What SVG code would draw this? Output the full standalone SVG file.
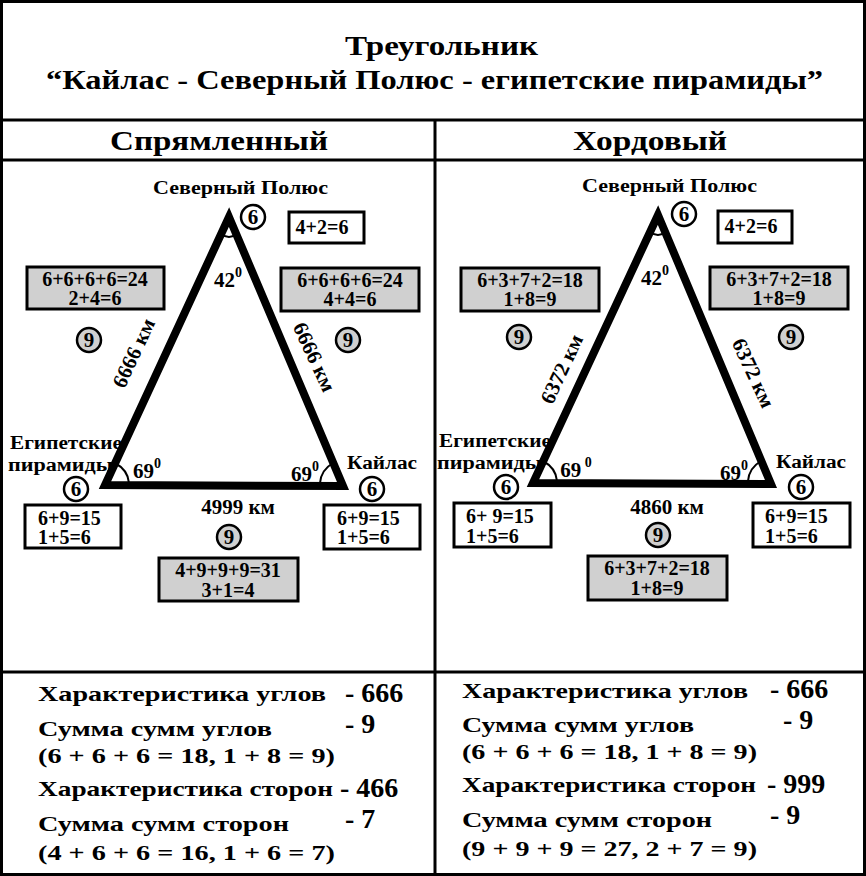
<svg xmlns="http://www.w3.org/2000/svg" width="866" height="876" viewBox="0 0 866 876">
<style>
text{font-family:"Liberation Serif","Times New Roman",serif;font-weight:bold;fill:#000}
.t{font-size:28px}
.l{font-size:18px}
.b{font-size:20px;text-anchor:middle}
.bs{font-size:20px;text-anchor:start}
.c{font-size:21px;text-anchor:middle}
.s{font-size:21px}
.n{font-size:28px}
.w{fill:#fff;stroke:#000;stroke-width:3}
.g{fill:#d0d0d0;stroke:#000;stroke-width:3}
.cw{fill:#fff;stroke:#000;stroke-width:2.5}
.cg{fill:#d0d0d0;stroke:#000;stroke-width:2.5}
.tri{fill:none;stroke:#000;stroke-width:8;stroke-linejoin:miter}
.arc{fill:none;stroke:#000;stroke-width:2}
</style>
<rect x="0" y="0" width="866" height="876" fill="#fff"/>
<g id="frame" fill="none" stroke="#000" stroke-width="3">
<rect x="1.5" y="1.5" width="863" height="873"/>
<line x1="0" y1="120" x2="866" y2="120"/>
<line x1="0" y1="160" x2="866" y2="160"/>
<line x1="435" y1="120" x2="435" y2="876"/>
<line x1="0" y1="672" x2="866" y2="672"/>
</g>
<g id="title">
<text class="t" x="345" y="55" textLength="193" lengthAdjust="spacingAndGlyphs">Треугольник</text>
<text class="t" x="46" y="89" textLength="777" lengthAdjust="spacingAndGlyphs">“Кайлас - Северный Полюс - египетские пирамиды”</text>
<text class="t" x="110" y="150" textLength="218" lengthAdjust="spacingAndGlyphs">Спрямленный</text>
<text class="t" x="573" y="150" textLength="154" lengthAdjust="spacingAndGlyphs">Хордовый</text>
</g>
<g id="connectors">
<polygon class="tri" points="229,217 105,485 343,486"/>
<polygon class="tri" points="658,215 533,483 771,484"/>
<path class="arc" d="M221,234 Q229,240 237,234"/>
<path class="arc" d="M115,463 Q128,470 129,483"/>
<path class="arc" d="M320,483 Q321,470 333,463"/>
<path class="arc" d="M650,232 Q658,238 666,232"/>
<path class="arc" d="M543,461 Q556,468 557,481"/>
<path class="arc" d="M748,481 Q749,468 761,461"/>
</g>
<g id="left-labels">
<text class="l" x="153" y="194" textLength="175" lengthAdjust="spacingAndGlyphs">Северный Полюс</text>
<text class="l" x="10" y="449" textLength="112" lengthAdjust="spacingAndGlyphs">Египетские</text>
<text class="l" x="8" y="471" textLength="105" lengthAdjust="spacingAndGlyphs">пирамиды</text>
<text class="l" x="347" y="469" textLength="70" lengthAdjust="spacingAndGlyphs">Кайлас</text>
<text class="c" x="228" y="287">42<tspan font-size="14" dy="-10">0</tspan></text>
<text class="c" x="147" y="478">69<tspan font-size="14" dy="-10">0</tspan></text>
<text class="c" x="305" y="481">69<tspan font-size="14" dy="-10">0</tspan></text>
<text class="c" transform="translate(140,356) rotate(-65)">6666 км</text>
<text class="c" transform="translate(308,360) rotate(65)">6666 км</text>
<text class="c" x="238" y="514">4999 км</text>
</g>
<g id="right-labels">
<text class="l" x="582" y="192" textLength="175" lengthAdjust="spacingAndGlyphs">Северный Полюс</text>
<text class="l" x="439" y="447" textLength="112" lengthAdjust="spacingAndGlyphs">Египетские</text>
<text class="l" x="437" y="469" textLength="105" lengthAdjust="spacingAndGlyphs">пирамиды</text>
<text class="l" x="776" y="468" textLength="70" lengthAdjust="spacingAndGlyphs">Кайлас</text>
<text class="c" x="655" y="285">42<tspan font-size="14" dy="-10">0</tspan></text>
<text class="c" x="576" y="477">69<tspan font-size="14" dy="-10"> 0</tspan></text>
<text class="c" x="734" y="480">69<tspan font-size="14" dy="-10">0</tspan></text>
<text class="c" transform="translate(568,372) rotate(-65)">6372 км</text>
<text class="c" transform="translate(747,376) rotate(65)">6372 км</text>
<text class="c" x="667" y="514">4860 км</text>
</g>
<g id="left-circles">
<circle class="cw" cx="253" cy="217" r="12"/><text class="c" x="253" y="224">6</text>
<circle class="cg" cx="89" cy="340" r="12"/><text class="c" x="89" y="347">9</text>
<circle class="cg" cx="348" cy="340" r="12"/><text class="c" x="348" y="347">9</text>
<circle class="cg" cx="229" cy="537" r="12"/><text class="c" x="229" y="544">9</text>
<circle class="cw" cx="76" cy="489" r="12"/><text class="c" x="76" y="496">6</text>
<circle class="cw" cx="372" cy="489" r="12"/><text class="c" x="372" y="496">6</text>
</g>
<g id="right-circles">
<circle class="cw" cx="684" cy="214" r="12"/><text class="c" x="684" y="221">6</text>
<circle class="cg" cx="519" cy="337" r="12"/><text class="c" x="519" y="344">9</text>
<circle class="cg" cx="791" cy="337" r="12"/><text class="c" x="791" y="344">9</text>
<circle class="cg" cx="658" cy="535" r="12"/><text class="c" x="658" y="542">9</text>
<circle class="cw" cx="506" cy="487" r="12"/><text class="c" x="506" y="494">6</text>
<circle class="cw" cx="801" cy="487" r="12"/><text class="c" x="801" y="494">6</text>
</g>
<g id="left-boxes">
<rect class="w" x="289" y="212" width="75" height="31"/><text class="b" x="322" y="234">4+2=6</text>
<rect class="g" x="27" y="267" width="137" height="42"/><text class="b" x="95" y="286">6+6+6+6=24</text><text class="b" x="95" y="305">2+4=6</text>
<rect class="g" x="281" y="268" width="138" height="43"/><text class="b" x="350" y="287">6+6+6+6=24</text><text class="b" x="350" y="306">4+4=6</text>
<rect class="w" x="25" y="505" width="96" height="43"/><text class="bs" x="38" y="525">6+9=15</text><text class="bs" x="38" y="544">1+5=6</text>
<rect class="w" x="324" y="505" width="96" height="44"/><text class="bs" x="337" y="525">6+9=15</text><text class="bs" x="337" y="544">1+5=6</text>
<rect class="g" x="159" y="558" width="139" height="43"/><text class="b" x="228" y="577">4+9+9+9=31</text><text class="b" x="228" y="597">3+1=4</text>
</g>
<g id="right-boxes">
<rect class="w" x="718" y="211" width="74" height="32"/><text class="b" x="751" y="233">4+2=6</text>
<rect class="g" x="461" y="268" width="138" height="43"/><text class="b" x="530" y="287">6+3+7+2=18</text><text class="b" x="530" y="306">1+8=9</text>
<rect class="g" x="710" y="267" width="138" height="42"/><text class="b" x="779" y="286">6+3+7+2=18</text><text class="b" x="779" y="305">1+8=9</text>
<rect class="w" x="454" y="503" width="97" height="44"/><text class="bs" x="466" y="523">6+ 9=15</text><text class="bs" x="466" y="543">1+5=6</text>
<rect class="w" x="753" y="503" width="97" height="44"/><text class="bs" x="765" y="523">6+9=15</text><text class="bs" x="765" y="543">1+5=6</text>
<rect class="g" x="588" y="556" width="139" height="44"/><text class="b" x="657" y="575">6+3+7+2=18</text><text class="b" x="657" y="595">1+8=9</text>
</g>
<g id="left-summary">
<text class="s" x="38" y="701" textLength="288" lengthAdjust="spacingAndGlyphs">Характеристика углов</text><text class="n" x="345" y="702">- 666</text>
<text class="s" x="38" y="736" textLength="234" lengthAdjust="spacingAndGlyphs">Сумма сумм углов</text><text class="n" x="345" y="733">- 9</text>
<text class="s" x="38" y="763" textLength="297" lengthAdjust="spacingAndGlyphs">(6 + 6 + 6 = 18, 1 + 8 = 9)</text>
<text class="s" x="38" y="796" textLength="295" lengthAdjust="spacingAndGlyphs">Характеристика сторон</text><text class="n" x="340" y="797">- 466</text>
<text class="s" x="38" y="831" textLength="251" lengthAdjust="spacingAndGlyphs">Сумма сумм сторон</text><text class="n" x="345" y="828">- 7</text>
<text class="s" x="38" y="860" textLength="297" lengthAdjust="spacingAndGlyphs">(4 + 6 + 6 = 16, 1 + 6 = 7)</text>
</g>
<g id="right-summary">
<text class="s" x="462" y="698" textLength="286" lengthAdjust="spacingAndGlyphs">Характеристика углов</text><text class="n" x="770" y="698">- 666</text>
<text class="s" x="462" y="732" textLength="232" lengthAdjust="spacingAndGlyphs">Сумма сумм углов</text><text class="n" x="783" y="729">- 9</text>
<text class="s" x="462" y="759" textLength="295" lengthAdjust="spacingAndGlyphs">(6 + 6 + 6 = 18, 1 + 8 = 9)</text>
<text class="s" x="462" y="792" textLength="294" lengthAdjust="spacingAndGlyphs">Характеристика сторон</text><text class="n" x="767" y="793">- 999</text>
<text class="s" x="462" y="827" textLength="250" lengthAdjust="spacingAndGlyphs">Сумма сумм сторон</text><text class="n" x="770" y="824">- 9</text>
<text class="s" x="462" y="856" textLength="295" lengthAdjust="spacingAndGlyphs">(9 + 9 + 9 = 27, 2 + 7 = 9)</text>
</g>
</svg>
